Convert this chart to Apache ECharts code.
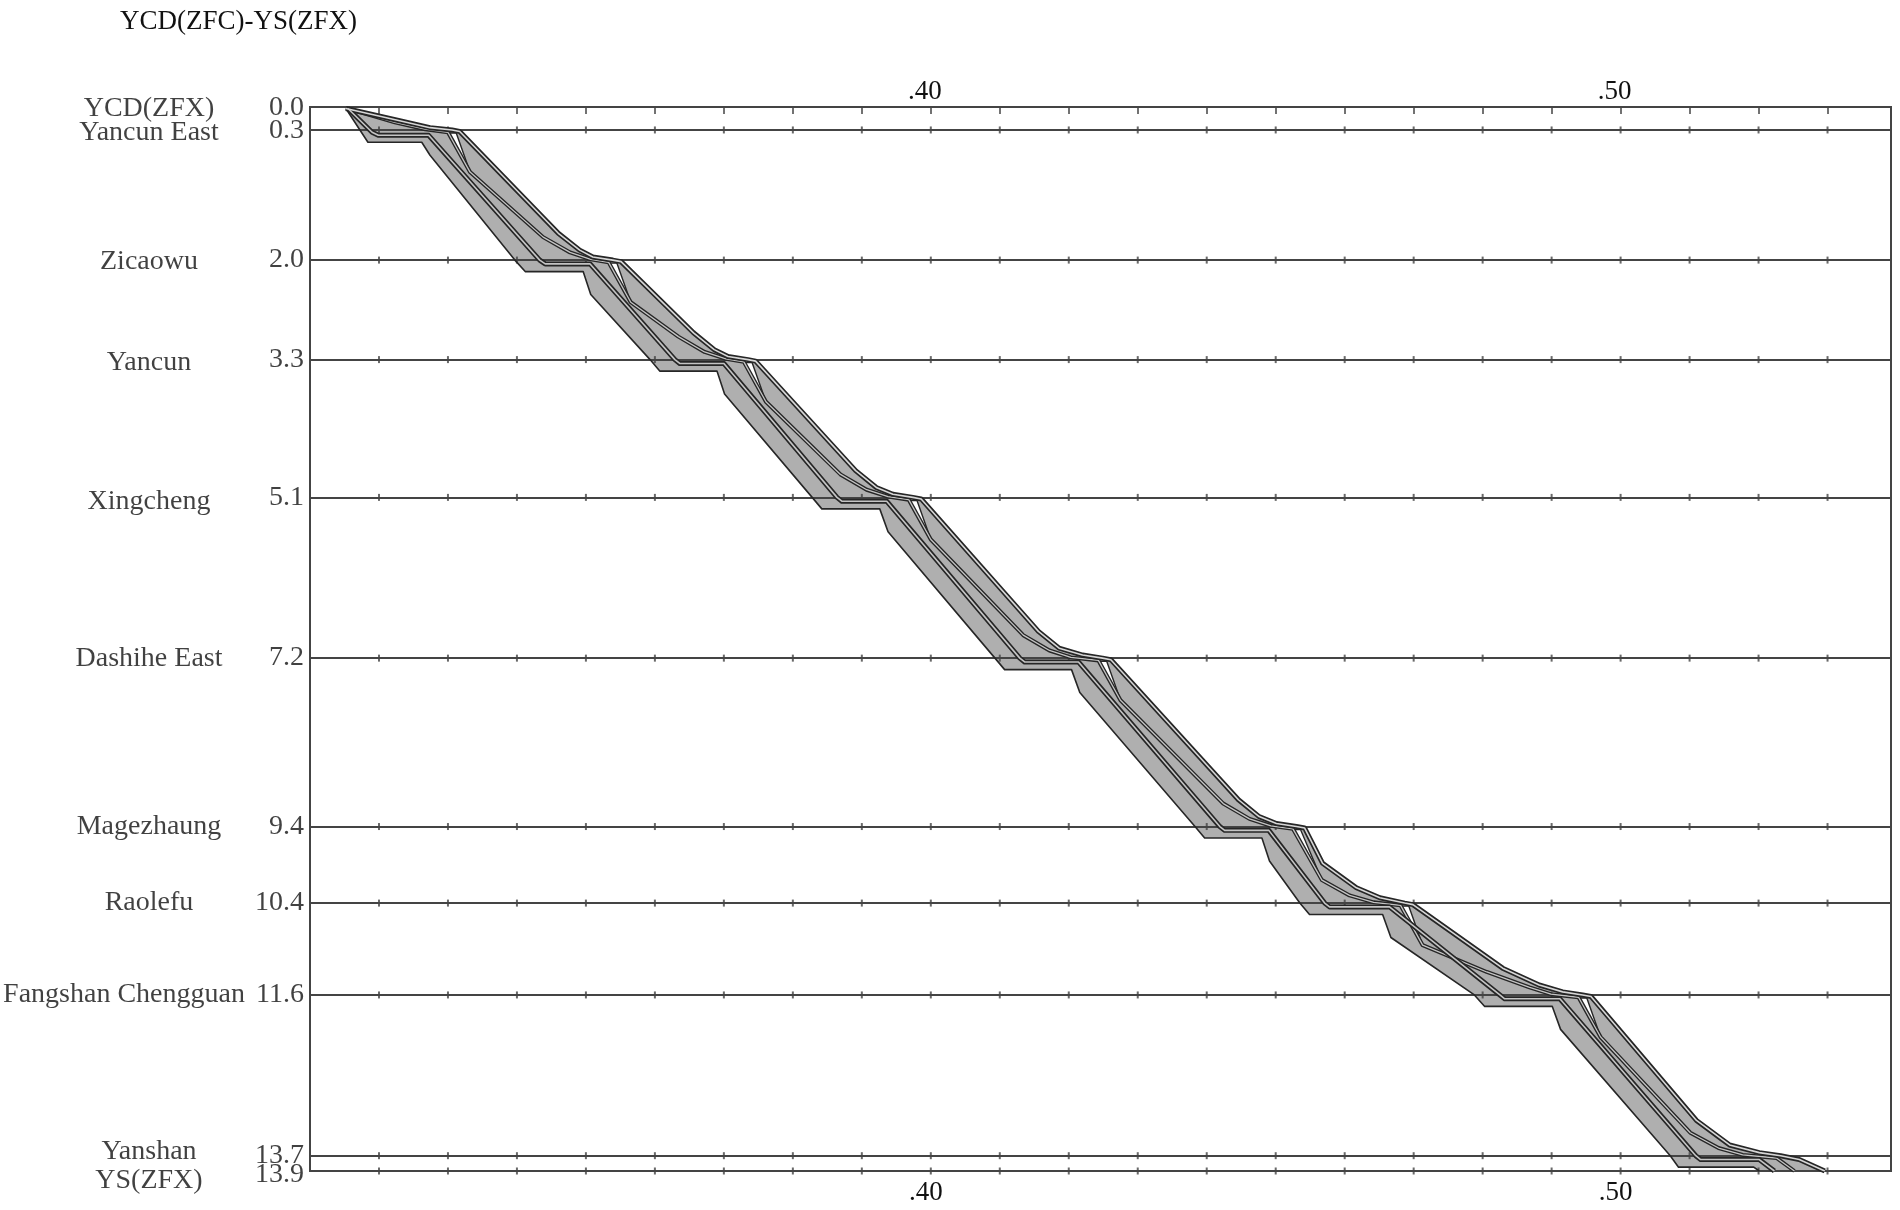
<!DOCTYPE html>
<html>
<head>
<meta charset="utf-8">
<script src="https://cdn.jsdelivr.net/npm/echarts@6.0.0/dist/echarts.min.js"></script>
<style>
html,body{margin:0;padding:0;background:#fff}
#chart{width:1900px;height:1210px}
</style>
</head>
<body>
<div id="chart"></div>
<script>
// stations (km from YCD)
var stationNames = ['YCD(ZFX)','Yancun East','Zicaowu','Yancun','Xingcheng','Dashihe East','Magezhaung','Raolefu','Fangshan Chengguan','Yanshan','YS(ZFX)'];
var stationKm = [0.0, 0.3, 2.0, 3.3, 5.1, 7.2, 9.4, 10.4, 11.6, 13.7, 13.9];

// time axis (minutes of the hour)
var minuteMarks = [32,33,34,35,36,37,38,39,40,41,42,43,44,45,46,47,48,49,50,51,52,53];
var timeTicks = [40, 50];
var timeTickLabels = ['.40', '.50'];

// left edge of the blocking band [minute, km]
var blockLeft = [
  [31.52,0.02],[31.84,0.46],[32.62,0.46],[32.74,0.63],
  [33.97,2.0],[34.12,2.15],[34.96,2.15],[35.07,2.45],
  [35.93,3.3],[36.07,3.45],[36.90,3.45],[37.01,3.75],
  [38.28,5.1],[38.42,5.25],[39.26,5.25],[39.38,5.55],
  [40.93,7.2],[41.07,7.35],[42.04,7.35],[42.16,7.65],
  [43.83,9.4],[43.97,9.55],[44.80,9.55],[44.91,9.85],
  [45.35,10.4],[45.49,10.55],[46.55,10.55],[46.67,10.85],
  [47.88,11.6],[48.03,11.75],[49.01,11.75],[49.13,12.05],
  [50.72,13.7],[50.84,13.85],[51.93,13.85],[52.01,13.9]
];

// right edge of the blocking band
var blockRight = [
  [31.52,0.02],[32.30,0.18],[32.74,0.27],[33.06,0.3],[33.17,0.32],
  [34.60,1.65],[34.91,1.87],[35.10,1.96],[35.39,2.0],[35.51,2.02],
  [36.56,2.95],[36.86,3.17],[37.06,3.26],[37.35,3.3],[37.46,3.32],
  [38.91,4.75],[39.21,4.97],[39.45,5.06],[39.74,5.1],[39.86,5.12],
  [41.56,6.85],[41.86,7.07],[42.20,7.16],[42.49,7.2],[42.61,7.22],
  [44.46,9.05],[44.76,9.27],[45.01,9.36],[45.30,9.4],[45.42,9.42],
  [45.68,9.88],[46.17,10.2],[46.51,10.33],[46.87,10.4],[46.99,10.42],
  [48.29,11.25],[48.82,11.47],[49.16,11.56],[49.45,11.6],[49.57,11.62],
  [51.10,13.24],[51.58,13.56],[52.01,13.66],[52.32,13.7],[52.59,13.75],[52.96,13.9]
];

// train path (first train)
var trainPath = [
  [31.55,0.02],[31.90,0.33],[31.99,0.37],[32.72,0.37],
  [34.33,2.0],[34.41,2.05],[35.06,2.05],
  [36.29,3.3],[36.36,3.35],[37.00,3.35],
  [38.64,5.1],[38.71,5.15],[39.36,5.15],
  [41.29,7.2],[41.36,7.25],[42.14,7.25],
  [44.19,9.4],[44.26,9.45],[44.90,9.45],
  [45.71,10.4],[45.78,10.45],[46.65,10.45],
  [48.25,11.6],[48.32,11.65],[49.12,11.65],
  [51.09,13.7],[51.16,13.75],[52.01,13.75],[52.23,13.9]
];

// second path inside the band
var trainPath2 = [
  [31.55,0.02],[32.23,0.2],[32.67,0.29],[33.00,0.33],[33.32,0.85],
  [34.38,1.7],[34.77,1.9],[35.07,1.99],[35.33,2.03],[35.65,2.55],
  [36.34,3.0],[36.72,3.2],[37.03,3.29],[37.29,3.33],[37.61,3.85],
  [38.69,4.8],[39.07,5.0],[39.38,5.09],[39.68,5.13],[40.00,5.65],
  [41.34,6.9],[41.72,7.1],[42.03,7.19],[42.43,7.23],[42.75,7.75],
  [44.24,9.1],[44.62,9.3],[44.93,9.39],[45.25,9.43],[45.67,10.1],
  [46.07,10.3],[46.42,10.39],[46.81,10.43],[47.13,10.95],
  [48.06,11.3],[48.68,11.5],[48.99,11.59],[49.39,11.63],[49.71,12.15],
  [51.01,13.4],[51.42,13.6],[51.77,13.69],[52.26,13.73],[52.52,13.9]
];

// white gaps after each departure
var clearGaps = [
  [[33.00,0.34],[33.12,0.34],[33.32,0.85]],
  [[35.33,2.04],[35.45,2.04],[35.65,2.55]],
  [[37.29,3.34],[37.41,3.34],[37.61,3.85]],
  [[39.68,5.14],[39.80,5.14],[40.00,5.65]],
  [[42.43,7.24],[42.55,7.24],[42.75,7.75]],
  [[45.25,9.44],[45.36,9.44],[45.67,10.1]],
  [[46.81,10.44],[46.93,10.44],[47.13,10.95]],
  [[49.39,11.64],[49.51,11.64],[49.71,12.15]]
];

var FONT = '"Liberation Serif", "DejaVu Serif", serif';
var INK = '#262626';
var GREY = '#afafaf';
var TXT = '#111111';

// small vertical nudges of the station labels (px): name, value
var nameShift = [2, 3, 2, 3, 4, 1, 0, 0, 0, -4, 10];
var valueShift = [1, 1, 0, 0, 0, 0, 0, 0, 0, 0, 4];

var myChart = echarts.init(document.getElementById('chart'));

var bandPolys = [blockLeft.concat(blockRight.slice().reverse())];

function polyRenderer(polys, fill, stroke, lw){
    return function(params, api){
        var pts = polys[params.dataIndex].map(function(p){ return api.coord(p); });
        return {
            type: 'polygon',
            shape: {points: pts},
            style: {fill: fill, stroke: stroke, lineWidth: lw}
        };
    };
}

function pathSeries(data, color, width, z){
    return {
        type: 'line', data: data, symbol: 'none', silent: true, z: z,
        lineStyle: {color: color, width: width, join: 'round'}
    };
}

var tickPoints = [];
for (var s = 1; s < stationKm.length; s++) {
    for (var m = 0; m < minuteMarks.length; m++) {
        tickPoints.push([minuteMarks[m], stationKm[s]]);
    }
}

function timeLabel(v){
    for (var i = 0; i < timeTicks.length; i++) {
        if (Math.abs(v - timeTicks[i]) < 1e-6) return timeTickLabels[i];
    }
    return '';
}

function shiftPad(sh){
    return sh >= 0 ? [2 * sh, 0, 0, 0] : [0, 0, -2 * sh, 0];
}

var labelRich = {};
for (var k = 0; k < stationNames.length; k++) {
    labelRich['n' + k] = {
        width: stationNames[k].length > 14 ? 244 : 194, align: 'center',
        fontFamily: FONT, fontSize: 28, color: TXT, padding: shiftPad(nameShift[k])
    };
    labelRich['v' + k] = {
        width: 58, align: 'right',
        fontFamily: FONT, fontSize: 28, color: TXT, padding: shiftPad(valueShift[k])
    };
}

// station labels anchored on the left edge of the plot
var stationLabelData = stationKm.map(function(d, i){ return {value: [31, d], idx: i}; });

var option = {
    animation: false,
    backgroundColor: '#fff',
    title: {
        text: 'YCD(ZFC)-YS(ZFX)', left: 115, top: 3,
        textStyle: {fontFamily: FONT, fontSize: 27, fontWeight: 'normal', color: TXT}
    },
    grid: {left: 310, right: 9, top: 107, bottom: 39, show: true, borderColor: '#444444', borderWidth: 2},
    xAxis: [
        {
            type: 'value', position: 'bottom', min: 31, max: 53.92, interval: 1,
            axisLine: {show: false}, axisTick: {show: false}, splitLine: {show: false},
            axisLabel: {formatter: timeLabel, fontFamily: FONT, fontSize: 27, color: TXT, margin: 8, padding: [0, 10, 0, 0]}
        },
        {
            type: 'value', position: 'top', min: 31, max: 53.92, interval: 1,
            axisLine: {show: false},
            axisTick: {show: true, inside: true, length: 7, lineStyle: {color: '#444444', width: 1.5}},
            splitLine: {show: false},
            axisLabel: {formatter: timeLabel, fontFamily: FONT, fontSize: 27, color: TXT, margin: 2, padding: [0, 12, 0, 0]}
        }
    ],
    yAxis: {
        type: 'value', inverse: true, min: 0, max: 13.9,
        axisLine: {show: false}, axisTick: {show: false}, splitLine: {show: false},
        axisLabel: {show: false}
    },
    series: [
        {
            type: 'custom', silent: true, z: 1,
            data: bandPolys.map(function(p){ return p[0]; }),
            renderItem: polyRenderer(bandPolys, GREY, 'none', 0)
        },
        {
            type: 'custom', silent: true, z: 2,
            data: clearGaps.map(function(p){ return p[0]; }),
            renderItem: polyRenderer(clearGaps, '#ffffff', INK, 1.4)
        },
        {
            type: 'scatter', silent: true, z: 3,
            data: tickPoints, symbol: 'rect', symbolSize: [2, 7],
            itemStyle: {color: '#444444'},
            markLine: {
                silent: true, symbol: ['none', 'none'], label: {show: false},
                lineStyle: {color: '#444444', width: 2, type: 'solid'},
                data: stationKm.map(function(d){ return {yAxis: d}; })
            }
        },
        {
            type: 'scatter', silent: true, z: 8, clip: false,
            data: stationLabelData, symbolSize: 0,
            label: {
                show: true, position: 'left', distance: 6,
                formatter: function(p){
                    var i = p.data.idx;
                    return '{n' + i + '|' + stationNames[i] + '}{v' + i + '|' + stationKm[i].toFixed(1) + '}';
                },
                rich: labelRich
            },
            labelLayout: {hideOverlap: false}
        },
        pathSeries(blockLeft, INK, 1.6, 5),
        pathSeries(trainPath2, INK, 4, 5),
        pathSeries(trainPath2, '#c4c4c4', 1.3, 5),
        pathSeries(trainPath, INK, 5, 6),
        pathSeries(trainPath, '#c4c4c4', 1.6, 7),
        pathSeries(blockRight, INK, 5, 6),
        pathSeries(blockRight, '#d6d6d6', 1.6, 7)
    ]
};
myChart.setOption(option);
</script>
</body>
</html>
